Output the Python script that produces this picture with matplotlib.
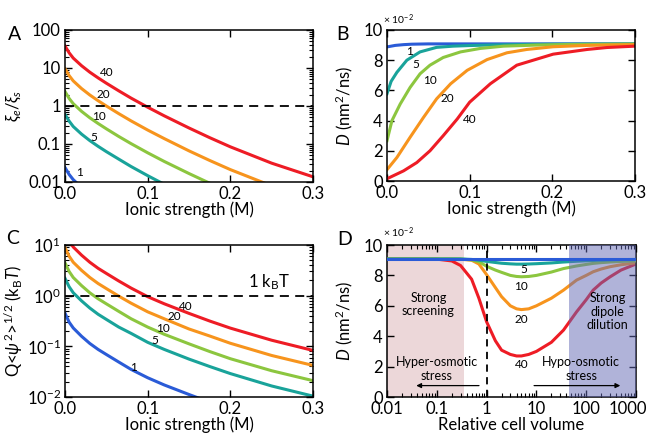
import matplotlib
matplotlib.use("Agg")
import matplotlib.pyplot as plt
from matplotlib.ticker import FormatStrFormatter, LogLocator, NullFormatter
from matplotlib.transforms import ScaledTranslation

plt.rcParams['font.family'] = ['Lato', 'DejaVu Sans']
plt.rcParams['mathtext.fontset'] = 'custom'
plt.rcParams['mathtext.rm'] = 'Lato'
plt.rcParams['mathtext.it'] = 'Lato:italic'
plt.rcParams['mathtext.bf'] = 'Lato:bold'

# ---------------- data ----------------
series_labels = ['1', '5', '10', '20', '40']
colors = ['#2a5bd7', '#19a39a', '#8cc63f', '#f7941d', '#ee1c25']

# Panel A: xi_e/xi_s vs ionic strength
xA = [0, 0.005, 0.01, 0.02, 0.03, 0.04, 0.05, 0.065, 0.08, 0.1, 0.12, 0.15, 0.175, 0.2, 0.25, 0.3]
A_q1 = [0.024, 0.0158, 0.0115, 0.0072, 0.0049, 0.0035, 0.0025, 0.0016, 0.001, 0.0006, 0.0004, 0.0002, 0.0001, 0.0001, 0.0001, 0.0001]
A_q5 = [0.60, 0.40, 0.288, 0.182, 0.123, 0.087, 0.063, 0.040, 0.0255, 0.0147, 0.0087, 0.0042, 0.0023, 0.0013, 0.0005, 0.0002]
A_q10 = [2.40, 1.58, 1.15, 0.724, 0.490, 0.347, 0.251, 0.158, 0.102, 0.0587, 0.0348, 0.0167, 0.0093, 0.0053, 0.002, 0.0009]
A_q20 = [9.55, 6.31, 4.57, 2.88, 1.95, 1.38, 1.0, 0.63, 0.405, 0.233, 0.139, 0.066, 0.0369, 0.0212, 0.0079, 0.0034]
A_q40 = [38.0, 25.1, 18.2, 11.5, 7.76, 5.50, 3.98, 2.51, 1.61, 0.93, 0.552, 0.264, 0.147, 0.0843, 0.0313, 0.0137]

# Panel B: D (x1e-2 nm^2/ns) vs ionic strength
xB_q1 = [0, 0.01, 0.02, 0.03, 0.05, 0.1, 0.3]
B_q1 = [8.88, 8.98, 9.03, 9.06, 9.08, 9.08, 9.08]
xB_q5 = [0, 0.005, 0.012, 0.024, 0.04, 0.06, 0.08, 0.1, 0.12, 0.15, 0.2, 0.3]
B_q5 = [5.78, 6.6, 7.2, 8.0, 8.55, 8.85, 8.93, 8.97, 9.0, 9.03, 9.06, 9.08]
xB_q10 = [0, 0.006, 0.016, 0.028, 0.04, 0.052, 0.068, 0.089, 0.113, 0.141, 0.18, 0.22, 0.3]
B_q10 = [2.67, 4.0, 5.1, 6.2, 7.1, 7.67, 8.18, 8.55, 8.78, 8.93, 9.0, 9.04, 9.07]
xB_q20 = [0, 0.012, 0.028, 0.044, 0.06, 0.077, 0.097, 0.121, 0.145, 0.169, 0.201, 0.242, 0.3]
B_q20 = [0.75, 1.56, 2.9, 4.2, 5.44, 6.44, 7.33, 8.04, 8.49, 8.71, 8.89, 8.98, 9.03]
xB_q40 = [0, 0.02, 0.036, 0.052, 0.068, 0.085, 0.1, 0.125, 0.157, 0.201, 0.242, 0.266, 0.3]
B_q40 = [0.15, 0.67, 1.22, 2.0, 3.0, 4.11, 5.22, 6.44, 7.67, 8.4, 8.71, 8.84, 8.93]

# Panel C: Q<psi^2>^1/2 (kBT) vs ionic strength
xC = [0, 0.005, 0.01, 0.02, 0.03, 0.04, 0.05, 0.065, 0.08, 0.1, 0.12, 0.15, 0.175, 0.2, 0.25, 0.3]
C_q1 = [0.45, 0.30, 0.23, 0.158, 0.114, 0.087, 0.069, 0.049, 0.035, 0.024, 0.0173, 0.0112, 0.0079, 0.0057, 0.0033, 0.0021]
C_q5 = [2.2, 1.5, 1.14, 0.79, 0.57, 0.43, 0.34, 0.24, 0.18, 0.12, 0.087, 0.056, 0.040, 0.029, 0.0165, 0.0104]
C_q10 = [4.45, 3.0, 2.28, 1.58, 1.14, 0.87, 0.69, 0.49, 0.35, 0.24, 0.173, 0.112, 0.079, 0.057, 0.033, 0.021]
C_q20 = [8.9, 6.0, 4.56, 3.16, 2.29, 1.74, 1.38, 0.98, 0.71, 0.48, 0.35, 0.22, 0.16, 0.115, 0.066, 0.042]
C_q40 = [17.8, 12.0, 9.12, 6.31, 4.57, 3.47, 2.75, 1.95, 1.41, 0.955, 0.692, 0.447, 0.316, 0.229, 0.132, 0.083]

# Panel D: D (x1e-2 nm^2/ns) vs relative cell volume
xD = [0.01, 0.1, 0.2, 0.3, 0.5, 0.7, 1, 1.5, 2, 3, 4, 5, 7, 10, 20, 35, 64, 100, 138, 200, 300, 500, 1000]
D_q1 = [9.08] * 23
D_q5 = [9.08, 9.08, 9.08, 9.08, 9.05, 9.0, 8.92, 8.85, 8.8, 8.76, 8.74, 8.74, 8.75, 8.77, 8.82, 8.88, 8.93, 8.96, 8.98, 9.0, 9.02, 9.04, 9.05]
D_q10 = [9.08, 9.08, 9.08, 9.08, 9.02, 8.9, 8.6, 8.35, 8.2, 8.0, 7.93, 7.91, 7.93, 8.0, 8.22, 8.45, 8.62, 8.72, 8.79, 8.84, 8.88, 8.92, 8.95]
D_q20 = [9.08, 9.08, 9.08, 9.06, 9.0, 8.75, 8.05, 7.2, 6.6, 6.0, 5.8, 5.75, 5.8, 6.0, 6.5, 7.03, 7.69, 8.0, 8.24, 8.42, 8.57, 8.7, 8.83]
D_q40 = [9.08, 9.07, 8.95, 8.65, 7.75, 6.5, 4.95, 3.7, 3.08, 2.8, 2.7, 2.7, 2.8, 3.0, 3.6, 4.4, 5.6, 6.4, 7.03, 7.5, 7.9, 8.35, 8.75]

# ---------------- figure ----------------
W, H = 647, 440
fig = plt.figure(figsize=(W / 100, H / 100), dpi=100)


def ax_px(l, t, r, b):
    return fig.add_axes([l / W, 1 - b / H, (r - l) / W, (b - t) / H])


axA = ax_px(65, 30, 313, 182)
axB = ax_px(387, 30, 635, 181)
axC = ax_px(65, 245, 313, 397)
axD = ax_px(387, 245, 636, 397)

LW = 2.2
FS = 12


def style(ax):
    ax.tick_params(which='both', direction='in', top=True, right=True, labelsize=FS, pad=3)
    ax.tick_params(which='major', length=5, width=1)
    ax.tick_params(which='minor', length=3, width=0.8)
    for s in ax.spines.values():
        s.set_linewidth(1.1)


# Panel A
for y, c in zip([A_q1, A_q5, A_q10, A_q20, A_q40], colors):
    axA.plot(xA, y, color=c, lw=LW)
axA.axhline(1, color='k', lw=1.3, ls=(0, (5, 3.5)))
axA.set_yscale('log')
axA.set_xlim(0, 0.3)
axA.set_ylim(0.01, 100)
axA.set_yticks([0.01, 0.1, 1, 10, 100])
axA.set_yticklabels(['0.01', '0.1', '1', '10', '100'])
axA.set_xticks([0, 0.1, 0.2, 0.3])
axA.xaxis.set_major_formatter(FormatStrFormatter('%.1f'))
axA.set_xlabel('Ionic strength (M)', fontsize=FS)
axA.set_ylabel(r'$\xi_e/\xi_s$', fontsize=FS)
axA.yaxis.set_label_coords(-0.165, 0.5)
axA.xaxis.set_label_coords(0.5, -0.13)
style(axA)
for txt, (x, y) in zip(series_labels, [(0.018, 0.018), (0.035, 0.15), (0.0413, 0.53), (0.0462, 2.0), (0.05, 7.6)]):
    axA.text(x, y, txt, fontsize=8.5, ha='center', va='center')

# Panel B
for xs, y, c in zip([xB_q1, xB_q5, xB_q10, xB_q20, xB_q40], [B_q1, B_q5, B_q10, B_q20, B_q40], colors):
    axB.plot(xs, y, color=c, lw=LW)
axB.set_xlim(0, 0.3)
axB.set_ylim(0, 10)
axB.set_yticks([0, 2, 4, 6, 8, 10])
axB.set_xticks([0, 0.1, 0.2, 0.3])
axB.xaxis.set_major_formatter(FormatStrFormatter('%.1f'))
axB.set_xlabel('Ionic strength (M)', fontsize=FS)
axB.set_ylabel(r'$D$ (nm$^2$/ns)', fontsize=FS)
axB.yaxis.set_label_coords(-0.13, 0.5)
axB.xaxis.set_label_coords(0.5, -0.13)
style(axB)
for txt, (x, y) in zip(series_labels, [(0.027, 8.55), (0.035, 7.7), (0.052, 6.65), (0.073, 5.45), (0.1, 4.1)]):
    axB.text(x, y, txt, fontsize=8.5, ha='center', va='center')

# Panel C
for y, c in zip([C_q1, C_q5, C_q10, C_q20, C_q40], colors):
    axC.plot(xC, y, color=c, lw=LW)
axC.axhline(1, color='k', lw=1.3, ls=(0, (5, 3.5)))
axC.set_yscale('log')
axC.set_xlim(0, 0.3)
axC.set_ylim(0.01, 10)
axC.set_yticks([0.01, 0.1, 1, 10])
axC.set_xticks([0, 0.1, 0.2, 0.3])
axC.xaxis.set_major_formatter(FormatStrFormatter('%.1f'))
axC.set_xlabel('Ionic strength (M)', fontsize=FS)
axC.set_ylabel(r'Q<$\psi^{2}$>$^{1/2}$ (k$_\mathrm{B}$$T$)', fontsize=FS)
axC.yaxis.set_label_coords(-0.16, 0.5)
axC.xaxis.set_label_coords(0.5, -0.13)
style(axC)
for txt, (x, y) in zip(series_labels, [(0.083, 0.039), (0.109, 0.13), (0.119, 0.22), (0.132, 0.38), (0.146, 0.62)]):
    axC.text(x, y, txt, fontsize=8.5, ha='center', va='center')
axC.text(0.247, 1.85, r'1 k$_\mathrm{B}$T', fontsize=FS, ha='center', va='center')

# Panel D
axD.axvspan(0.01, 0.35, color='#ecd7d9', zorder=0, lw=0)
for y, c, z in zip([D_q1, D_q5, D_q10, D_q20, D_q40], colors, [6, 4, 3, 2, 1]):
    axD.plot(xD, y, color=c, lw=LW, zorder=z)
axD.axvspan(45, 1000, color=(0.39, 0.41, 0.71), alpha=0.5, zorder=5, lw=0)
axD.axvline(1, color='k', lw=1.3, ls=(0, (4, 3)), zorder=7)
axD.set_xscale('log')
axD.set_xlim(0.01, 1000)
axD.set_ylim(0, 10)
axD.set_yticks([0, 2, 4, 6, 8, 10])
axD.set_xticks([0.01, 0.1, 1, 10, 100, 1000])
axD.set_xticklabels(['0.01', '0.1', '1', '10', '100', '1000'])
axD.xaxis.set_minor_locator(LogLocator(base=10, subs=range(2, 10), numticks=20))
axD.xaxis.set_minor_formatter(NullFormatter())
axD.set_xlabel('Relative cell volume', fontsize=FS)
axD.set_ylabel(r'$D$ (nm$^2$/ns)', fontsize=FS)
axD.yaxis.set_label_coords(-0.13, 0.5)
axD.xaxis.set_label_coords(0.5, -0.13)
style(axD)
for txt, (x, y) in zip(series_labels[1:], [(5.6, 8.4), (5.0, 7.3), (5.0, 5.1), (5.0, 2.15)]):
    axD.text(x, y, txt, fontsize=8.5, ha='center', va='center', zorder=10)
axD.text(0.068, 6.1, 'Strong\nscreening', fontsize=9, ha='center', va='center', linespacing=1.15, zorder=10)
axD.text(270, 5.6, 'Strong\ndipole\ndilution', fontsize=9, ha='center', va='center', linespacing=1.15, zorder=10)
axD.text(0.1, 1.85, 'Hyper-osmotic\nstress', fontsize=9, ha='center', va='center', linespacing=1.15, zorder=10)
axD.text(80, 1.85, 'Hypo-osmotic\nstress', fontsize=9, ha='center', va='center', linespacing=1.15, zorder=10)
axD.annotate('', xy=(0.034, 0.75), xytext=(0.8, 0.75),
             arrowprops=dict(arrowstyle='-|>', lw=0.9, color='k', mutation_scale=7), zorder=10)
axD.annotate('', xy=(550, 0.75), xytext=(7.9, 0.75),
             arrowprops=dict(arrowstyle='-|>', lw=0.9, color='k', mutation_scale=7), zorder=10)

# shift the last x tick label of D slightly left so it stays inside the figure
last = axD.get_xticklabels()[-1]
last.set_transform(last.get_transform() + ScaledTranslation(-8 / 100, 0, fig.dpi_scale_trans))

# panel letters and multipliers
for lab, (x, y) in zip(['A', 'B', 'C', 'D'], [(15, 35), (342, 34), (13, 238), (345, 239)]):
    fig.text(x / W, 1 - y / H, lab, fontsize=14, ha='center', va='center')
for (x, y) in [(398, 20), (398, 233)]:
    fig.text(x / W, 1 - y / H, r'× 10$^{-2}$', fontsize=7.5, ha='center', va='center')

fig.savefig('out.png', dpi=100)
